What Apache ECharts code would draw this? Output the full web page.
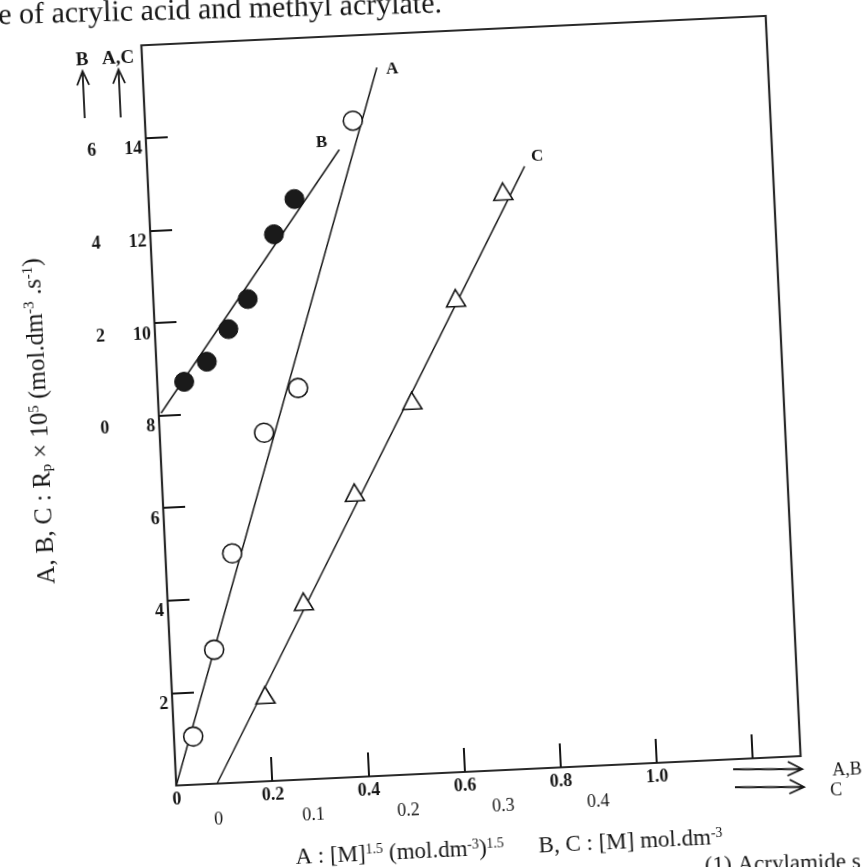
<!DOCTYPE html>
<html>
<head>
<meta charset="utf-8">
<title>Rp vs monomer concentration</title>
<script src="https://cdn.jsdelivr.net/npm/echarts@6/dist/echarts.min.js"></script>
<style>
    html, body {
        margin: 0;
        padding: 0;
        width: 867px;
        height: 867px;
        overflow: hidden;
        background: #fff;
    }
    /* the scanned figure sits a little tilted on the page */
    #chart {
        position: absolute;
        left: -66px;
        top: -66px;
        width: 1000px;
        height: 1000px;
        transform: rotate(-2.7deg);
    }
</style>
</head>
<body>
<div id="chart"></div>
<script>
    // A : Rp vs [M]^1.5  (open circles, A,C scale)
    var aX = [0.040, 0.092, 0.139, 0.217, 0.292, 0.432];
    var aY = [1.04, 2.89, 4.95, 7.52, 8.45, 14.16];
    var aLine = [[0, 0], [0.487, 15.28]];

    // B : Rp vs [M]  (filled circles, B scale)
    var bX = [0.056, 0.105, 0.153, 0.196, 0.257, 0.303];
    var bY = [0.70, 1.11, 1.79, 2.42, 3.79, 4.53];
    var bLine = [[0.005, 0.05], [0.401, 5.55]];

    // C : Rp vs [M]  (triangles, lower x scale, A,C scale)
    var cX = [0.055, 0.100, 0.159, 0.224, 0.275, 0.330];
    var cY = [1.86, 3.84, 6.14, 8.06, 10.23, 12.48];
    var cLine = [[0, 0], [0.354, 13.0]];

    // axes
    var abTicks = [0.2, 0.4, 0.6, 0.8, 1.0, 1.2];
    var abLabels = [0, 0.2, 0.4, 0.6, 0.8, 1.0];
    var cLabels = [0, 0.1, 0.2, 0.3, 0.4];
    var acTicks = [2, 4, 6, 8, 10, 12, 14];
    var acLabels = [2, 4, 6, 8, 10, 12, 14];
    var bLabels = [0, 2, 4, 6];

    var serif = '"Liberation Serif", "DejaVu Serif", serif';
    var ink = '#161616';

    function pairs(xs, ys) {
        return xs.map(function (x, i) {
            return [x, ys[i]];
        });
    }

    function decimal(v) {
        return v === 0 ? '0' : v.toFixed(1);
    }

    function stroke() {
        return {stroke: ink, lineWidth: 1.8, fill: null};
    }

    function endLabel(text, offset) {
        return {
            show: true,
            formatter: text,
            offset: offset,
            color: ink,
            fontFamily: serif,
            fontWeight: 'bold',
            fontSize: 17
        };
    }

    var chart = echarts.init(document.getElementById('chart'));

    var option = {
        animation: false,
        backgroundColor: 'transparent',
        grid: {
            left: 226,
            top: 98,
            width: 625,
            height: 741,
            show: true,
            borderColor: '#2a2a2a',
            borderWidth: 2.2,
            backgroundColor: 'transparent',
            outerBoundsMode: 'none'
        },
        xAxis: [
            {
                // A,B scale
                type: 'value',
                min: 0,
                max: 1.3,
                axisLine: {show: false},
                splitLine: {show: false},
                axisTick: {
                    inside: true,
                    length: 24,
                    customValues: abTicks,
                    lineStyle: {color: ink, width: 2}
                },
                axisLabel: {
                    customValues: abLabels,
                    formatter: decimal,
                    margin: 5,
                    color: ink,
                    fontFamily: serif,
                    fontWeight: 'bold',
                    fontSize: 18
                }
            },
            {
                // C scale
                type: 'value',
                min: -0.043,
                max: 0.615,
                position: 'bottom',
                axisLine: {show: false},
                axisTick: {show: false},
                splitLine: {show: false},
                axisLabel: {
                    customValues: cLabels,
                    formatter: decimal,
                    margin: 27,
                    color: ink,
                    fontFamily: serif,
                    fontSize: 18
                },
                name: '{t|A : [M]}{s|1.5}{t| (mol.dm}{s|-3}{t|)}{s|1.5}{t|      B, C : [M] mol.dm}{s|-3}',
                nameLocation: 'middle',
                nameGap: 66,
                nameTextStyle: {
                    color: ink,
                    fontFamily: serif,
                    fontSize: 23,
                    padding: [0, 0, 0, 34],
                    rich: {
                        t: {fontFamily: serif, fontSize: 23, color: ink},
                        s: {fontFamily: serif, fontSize: 14, color: ink, verticalAlign: 'top'}
                    }
                }
            }
        ],
        yAxis: [
            {
                // A,C scale
                type: 'value',
                min: 0,
                max: 16,
                axisLine: {show: false},
                splitLine: {show: false},
                axisTick: {
                    inside: true,
                    length: 22,
                    customValues: acTicks,
                    lineStyle: {color: ink, width: 2}
                },
                axisLabel: {
                    customValues: acLabels,
                    margin: 4,
                    verticalAlign: 'top',
                    padding: [2, 0, 0, 0],
                    color: ink,
                    fontFamily: serif,
                    fontWeight: 'bold',
                    fontSize: 18
                },
                name: '{t|A, B, C : R}{sub|p}{t| × 10}{sup|5}{t| (mol.dm}{sup|-3}{t| .s}{sup|-1}{t|)}',
                nameLocation: 'middle',
                nameGap: 106,
                nameTextStyle: {
                    color: ink,
                    fontFamily: serif,
                    fontSize: 25,
                    rich: {
                        t: {fontFamily: serif, fontSize: 25, color: ink},
                        sub: {fontFamily: serif, fontSize: 15, color: ink, verticalAlign: 'bottom'},
                        sup: {fontFamily: serif, fontSize: 15, color: ink, verticalAlign: 'top'}
                    }
                }
            },
            {
                // B scale
                type: 'value',
                min: -8,
                max: 8,
                position: 'left',
                axisLine: {show: false},
                axisTick: {show: false},
                splitLine: {show: false},
                axisLabel: {
                    customValues: bLabels,
                    margin: 50,
                    verticalAlign: 'top',
                    padding: [2, 0, 0, 0],
                    color: ink,
                    fontFamily: serif,
                    fontWeight: 'bold',
                    fontSize: 18
                }
            }
        ],
        series: [
            {
                type: 'line',
                xAxisIndex: 0,
                yAxisIndex: 0,
                data: aLine,
                showSymbol: false,
                silent: true,
                lineStyle: {color: ink, width: 1.5},
                endLabel: endLabel('A', [1, 2]),
                z: 2
            },
            {
                type: 'scatter',
                xAxisIndex: 0,
                yAxisIndex: 0,
                data: pairs(aX, aY),
                symbol: 'circle',
                symbolSize: 19,
                itemStyle: {color: '#fff', borderColor: ink, borderWidth: 1.6, opacity: 1},
                z: 3
            },
            {
                type: 'line',
                xAxisIndex: 0,
                yAxisIndex: 1,
                data: bLine,
                showSymbol: false,
                silent: true,
                lineStyle: {color: ink, width: 1.5},
                endLabel: endLabel('B', [-31, -8]),
                z: 2
            },
            {
                type: 'scatter',
                xAxisIndex: 0,
                yAxisIndex: 1,
                data: pairs(bX, bY),
                symbol: 'circle',
                symbolSize: 19,
                itemStyle: {color: '#1a1a1a', borderColor: '#111', borderWidth: 1, opacity: 1},
                z: 3
            },
            {
                type: 'line',
                xAxisIndex: 1,
                yAxisIndex: 0,
                data: cLine,
                showSymbol: false,
                silent: true,
                lineStyle: {color: ink, width: 1.5},
                endLabel: endLabel('C', [-1, -9]),
                z: 2
            },
            {
                type: 'scatter',
                xAxisIndex: 1,
                yAxisIndex: 0,
                data: pairs(cX, cY),
                symbol: 'triangle',
                symbolSize: [19, 17],
                itemStyle: {color: '#fff', borderColor: ink, borderWidth: 1.6, opacity: 1},
                z: 3
            }
        ],
        graphic: [
            // page text above and below the figure
            {
                type: 'text',
                x: 84,
                y: 77,
                rotation: -0.021,
                style: {
                    text: 'e of acrylic acid and methyl acrylate.',
                    fill: ink,
                    font: '30px ' + serif,
                    verticalAlign: 'bottom'
                }
            },
            {
                type: 'text',
                x: 750,
                y: 956,
                rotation: -0.021,
                style: {
                    text: '(1) Acrylamide s',
                    fill: ink,
                    font: '23px ' + serif,
                    verticalAlign: 'bottom'
                }
            },
            // scale arrows, top left
            {type: 'polyline', shape: {points: [[166, 168], [166, 122]]}, style: stroke()},
            {type: 'polyline', shape: {points: [[160, 135], [166, 121], [172, 135]]}, style: stroke()},
            {type: 'polyline', shape: {points: [[202, 169], [202, 122]]}, style: stroke()},
            {type: 'polyline', shape: {points: [[196, 135], [202, 121], [208, 135]]}, style: stroke()},
            {
                type: 'text', x: 166, y: 110,
                style: {text: 'B', fill: ink, font: 'bold 19px ' + serif, align: 'center', verticalAlign: 'middle'}
            },
            {
                type: 'text', x: 202, y: 110,
                style: {text: 'A,C', fill: ink, font: 'bold 19px ' + serif, align: 'center', verticalAlign: 'middle'}
            },
            // scale arrows, bottom right
            {type: 'polyline', shape: {points: [[783, 849], [851, 852]]}, style: stroke()},
            {type: 'polyline', shape: {points: [[838, 844], [852, 852], [837, 858]]}, style: stroke()},
            {type: 'polyline', shape: {points: [[784, 867], [852, 870]]}, style: stroke()},
            {type: 'polyline', shape: {points: [[839, 862], [853, 870], [838, 876]]}, style: stroke()},
            {
                type: 'text', x: 882, y: 855,
                style: {text: 'A,B', fill: ink, font: '18px ' + serif, verticalAlign: 'middle'}
            },
            {
                type: 'text', x: 879, y: 875,
                style: {text: 'C', fill: ink, font: '18px ' + serif, verticalAlign: 'middle'}
            }
        ]
    };

    chart.setOption(option);
</script>
</body>
</html>
